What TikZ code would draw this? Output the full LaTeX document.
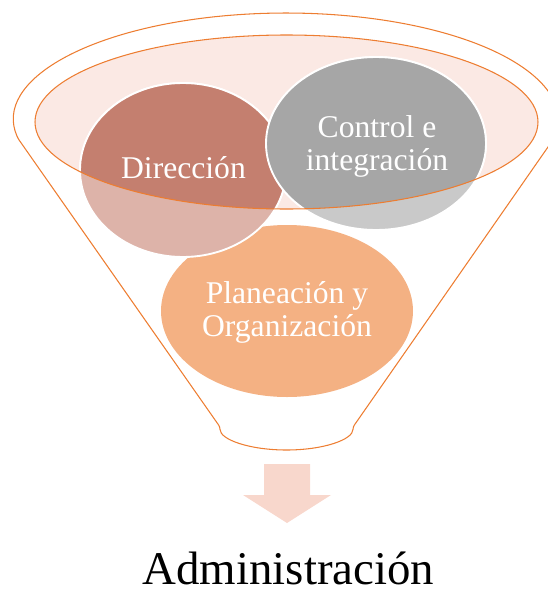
\documentclass[tikz,border=0pt]{standalone}
\usepackage{fontspec}
\setmainfont{Liberation Serif}
\usetikzlibrary{calc}
\definecolor{funnelline}{RGB}{237,125,49}
\definecolor{funneltop}{RGB}{251,233,228}
\definecolor{direcdark}{RGB}{196,127,111}
\definecolor{direclight}{RGB}{221,179,169}
\definecolor{ctrldark}{RGB}{166,166,166}
\definecolor{ctrllight}{RGB}{201,201,201}
\definecolor{plancolor}{RGB}{244,177,131}
\definecolor{arrowcolor}{RGB}{248,215,204}
\tikzset{
  funnel/.style={draw=funnelline,line width=0.9pt},
  bubble/.style={draw=white,line width=1.6pt},
  bubbletext/.style={text=white,font=\fontsize{27}{28}\selectfont,align=center,inner sep=0pt,anchor=base},
}
\begin{document}
\begin{tikzpicture}[x=0.3mm,y=0.3mm]
\useasboundingbox (0,0) rectangle (548,-591);
%funnel body
\draw[funnel,rounded corners=2pt](18.1,-138.6) arc[start angle=190,end angle=-10,x radius=272,y radius=107]
  --(353,-427) arc[start angle=0,end angle=-180,x radius=66.5,y radius=23]--cycle;
%funnel mouth
\fill[funneltop](286.5,-122) ellipse[x radius=251.5,y radius=87];
%bubbles, light part
\fill[plancolor](287,-311) ellipse[x radius=126,y radius=86];
\filldraw[bubble,fill=direclight](183,-170) ellipse[x radius=103,y radius=87];
\filldraw[bubble,fill=ctrllight](376,-143.5) ellipse[x radius=110,y radius=86.5];
%bubbles, part inside the mouth
\begin{scope}
\clip(286.5,-122) ellipse[x radius=251.5,y radius=87];
\filldraw[bubble,fill=direcdark](183,-170) ellipse[x radius=103,y radius=87];
\filldraw[bubble,fill=ctrldark](376,-143.5) ellipse[x radius=110,y radius=86.5];
\end{scope}
\draw[funnel](286.5,-122) ellipse[x radius=251.5,y radius=87];
%labels (base = last line)
\node[bubbletext](direccion)at(183.5,-178){Dirección};
\node[bubbletext](control)at(377,-170){Control e\\integración};
\node[bubbletext](planeacion)at(287,-336){Planeación y\\Organización};
%output arrow
\fill[arrowcolor](264,-464)--(310,-464)--(310,-495)--(331,-495)--(287,-523)--(243,-495)--(264,-495)--cycle;
\node[font=\fontsize{40}{48}\selectfont,inner sep=0pt,anchor=base](admin)at(288.5,-584){Administración};
\end{tikzpicture}
\end{document}
